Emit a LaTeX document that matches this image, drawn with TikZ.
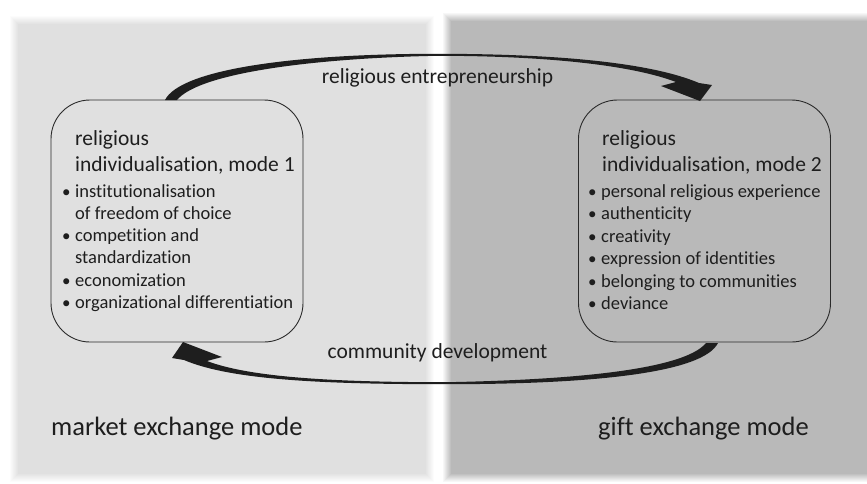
\documentclass[tikz,border=0pt]{standalone}
\usepackage{fontspec}
\setmainfont[Ligatures={NoCommon}]{Carlito}
\definecolor{panelA}{HTML}{E0E0E0}
\definecolor{panelB}{HTML}{B9B9B9}
\definecolor{ink}{HTML}{1E1E1E}
\definecolor{frame}{HTML}{2A2A2A}
\tikzset{
  head/.style={anchor=base west, inner sep=0pt, text=ink, font=\fontsize{21.5}{26}\selectfont},
  item/.style={anchor=base west, inner sep=0pt, text=ink, font=\fontsize{18.5}{22}\selectfont},
  dot/.style={anchor=base west, inner sep=0pt, text=ink, font=\fontsize{17}{22}\selectfont},
  flowlabel/.style={anchor=base, inner sep=0pt, text=ink, font=\fontsize{21.5}{26}\selectfont},
  modelabel/.style={anchor=base west, inner sep=0pt, text=ink, font=\fontsize{26.5}{30}\selectfont},
  modebox/.style={draw=frame, line width=0.9pt, rounded corners=39pt, minimum width=252pt, minimum height=242pt, inner sep=0pt},
  flow/.style={fill=ink, draw=none},
}
\begin{document}
\begin{tikzpicture}[x=1pt, y=-1pt]
\useasboundingbox (0,0) rectangle (867,483);
\fill[white] (0,0) rectangle (867,483);

% two panels with soft edges
\foreach \k in {0,...,8}{
  \pgfmathtruncatemacro{\p}{(\k+1)*100/9}
  \fill[panelA!\p!white] (10+\k,16+\k) rectangle (434-\k,482-\k);
  \fill[panelB!\p!white] (443+\k,13+\k) rectangle (890,482-\k);
}

% the two modes of individualisation
\node[modebox] (m1) at (177,221) {};
\node[modebox] (m2) at (704.5,221) {};

\node[head] (h1a) at (75,145) {religious};
\node[head] (h1b) at (75,171) {individualisation, mode 1};
\node[head] (h2a) at (602,145) {religious};
\node[head] (h2b) at (602,171) {individualisation, mode 2};

\foreach \t/\b [count=\i] in {institutionalisation/1, of freedom of choice/0,
    competition and/1, standardization/0, economization/1,
    organizational differentiation/1}{
  \node[item] (a\i) at (75,{197+22.3*(\i-1)}) {\t};
  \ifnum\b=1 \node[dot] (ab\i) at (62,{197+22.3*(\i-1)}) {•}; \fi
}
\foreach \t [count=\i] in {personal religious experience, authenticity,
    creativity, expression of identities, belonging to communities, deviance}{
  \node[item] (b\i) at (601,{197.5+22.4*(\i-1)}) {\t};
  \node[dot] (bb\i) at (588,{197.5+22.4*(\i-1)}) {•};
}

% tapered flow from mode 1 to mode 2 (over the top)
\fill[flow] (165,100) .. controls (180,70) and (290,53.8) .. (437,53.8)
  .. controls (560,53.8) and (652,63) .. (699,83)
  -- (712,85) -- (700,101) -- (661,86) -- (676,82)
  .. controls (634,66) and (552,55.8) .. (437,55.8)
  .. controls (320,58) and (200,72) .. (177,100) -- cycle;

% tapered flow from mode 2 back to mode 1 (underneath)
\fill[flow] (718,343) .. controls (703,373) and (593,384.2) .. (446,384.2)
  .. controls (323,384.2) and (231,380) .. (184,360)
  -- (172,358) -- (183,342) -- (222,357) -- (207,361)
  .. controls (249,377) and (331,382.2) .. (446,382.2)
  .. controls (563,380) and (683,371) .. (706,343) -- cycle;

\node[flowlabel] (fl1) at (437.5,83.3) {religious entrepreneurship};
\node[flowlabel] (fl2) at (437.5,358) {community development};

\node[modelabel] (mk) at (51,435) {market exchange mode};
\node[modelabel] (gf) at (598,435) {gift exchange mode};
\end{tikzpicture}
\end{document}
